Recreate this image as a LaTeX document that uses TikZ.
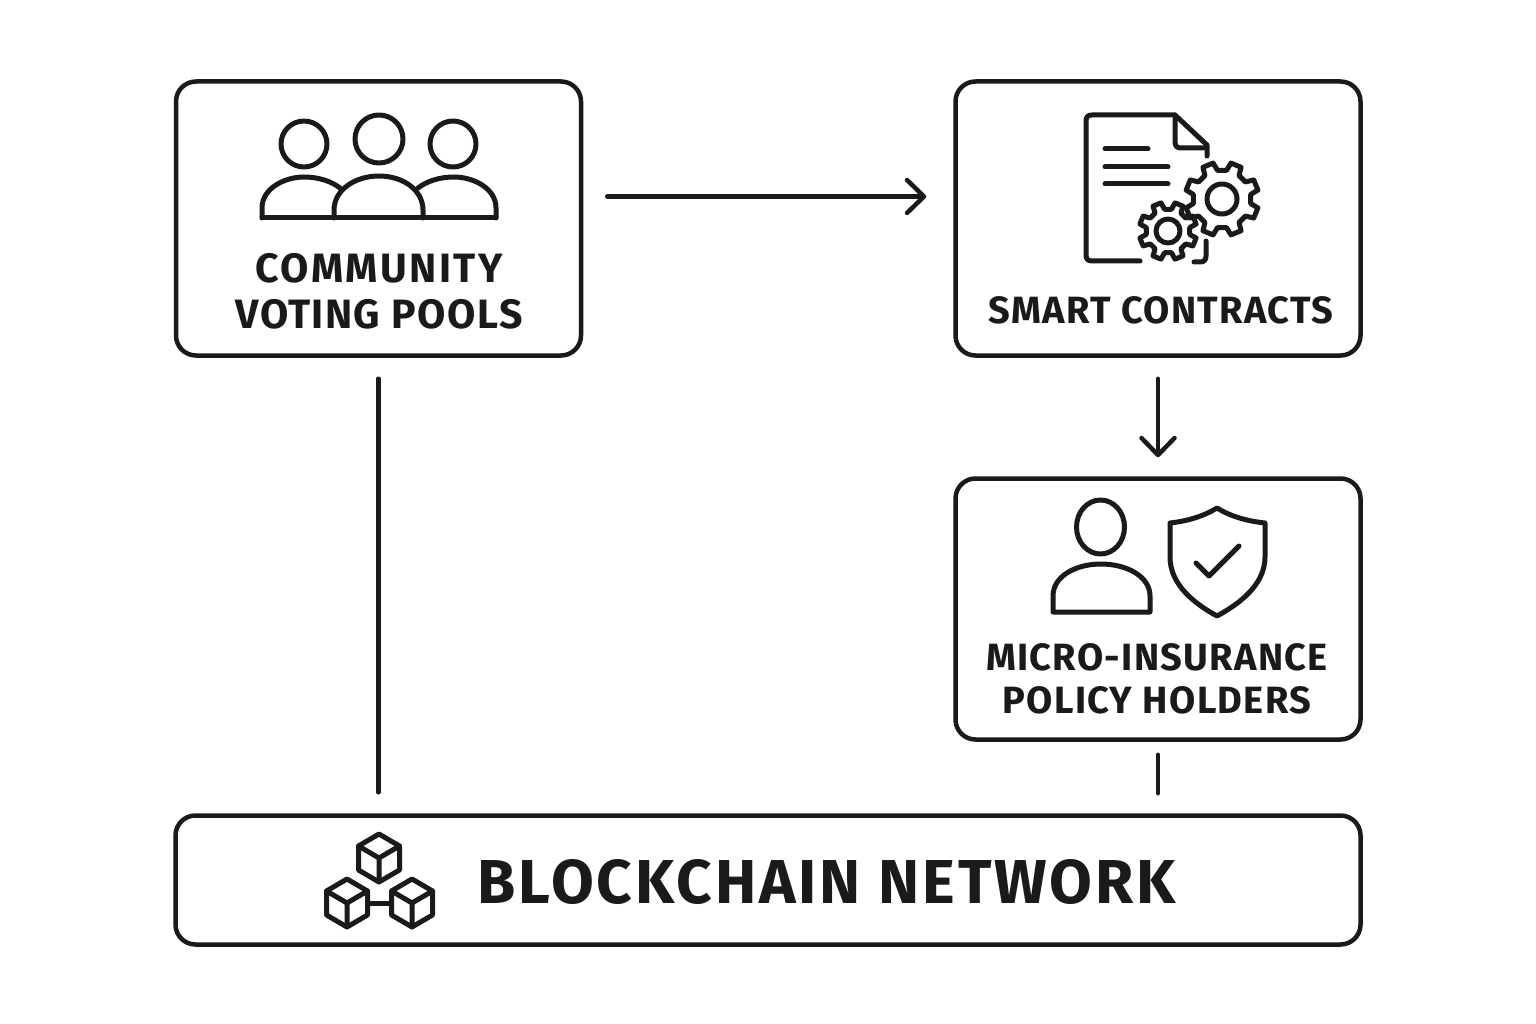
\documentclass[tikz,border=0pt]{standalone}
\usepackage{fontspec}
\setmainfont[LetterSpace=3.5]{Fira Sans}
\newfontfamily\bigfont[LetterSpace=4.7]{Fira Sans}
\usetikzlibrary{arrows.meta}
\definecolor{inkline}{HTML}{1A1A1A}
\tikzset{
panel/.style={
  draw=inkline,
  line width=4.5pt,
  rectangle,
  rounded corners=20pt,
  inner sep=0pt
  },
caption/.style={
  text=inkline,
  align=center,
  inner sep=0pt,
  font=\bfseries\fontsize{38}{43}\selectfont
  },
bigcaption/.style={
  caption,
  font=\bigfont\bfseries\fontsize{62}{70}\selectfont
  },
link/.style={
  draw=inkline,
  line width=4.5pt,
  line cap=round
  },
arrowlink/.style={
  link,
  -{Straight Barb[length=17pt,width=33pt,line width=4.5pt,round]}
  },
icon/.style={
  draw=inkline,
  line width=5pt,
  line cap=round,
  line join=round
  }
}
% cog wheel: centre, root radius, outer radius, hole radius
\newcommand{\cogwheel}[5]{
\draw[icon,shift={(#1,#2)}] (-14:#4)
  \foreach \ang in {0,45,...,315} {
    -- ({\ang-14}:#4) -- ({\ang-9}:#3) -- ({\ang+9}:#3) -- ({\ang+14}:#4)
  } -- cycle;
\draw[icon] (#1,#2) circle[radius=#5];
}
% small cube: centre
\newcommand{\netcube}[2]{
\draw[icon,shift={(#1,#2)}] (0,-24) -- (20.5,-12) -- (20.5,12) -- (0,24)
  -- (-20.5,12) -- (-20.5,-12) -- cycle;
\draw[icon,shift={(#1,#2)}] (-20.5,-12) -- (0,0) -- (20.5,-12) (0,0) -- (0,24);
}

\begin{document}
\begin{tikzpicture}[x=1pt,y=-1pt,>=latex]
\useasboundingbox (0,0) rectangle (1536,1024);

\node[panel,minimum width=405pt,minimum height=274pt] (pools) at (378.5,218.5) {};
\node[panel,minimum width=405pt,minimum height=274pt] (contracts) at (1158,218.5) {};
\node[panel,minimum width=405pt,minimum height=261pt] (holders) at (1158,609) {};
\node[panel,minimum width=1185pt,minimum height=129pt] (chain) at (768,880) {};

\node[caption,font=\bfseries\fontsize{41}{46}\selectfont] (pools-text) at (379,291)
  {{\addfontfeature{LetterSpace=6}COMMUNITY}\\VOTING POOLS};
\node[caption] (contracts-text) at (1161,310) {SMART CONTRACTS};
\node[caption] (holders-text) at (1157,678.5) {MICRO-INSURANCE\\POLICY HOLDERS};
\node[bigcaption] (chain-text) at (827,882) {BLOCKCHAIN NETWORK};

\draw[arrowlink,shorten <=24pt,shorten >=27pt] ([yshift=22pt]pools.east) -- ([yshift=22pt]contracts.west);
\draw[arrowlink,shorten <=21pt,shorten >=19pt] (contracts.south) -- (holders.north);
\draw[link,shorten <=21pt,shorten >=21pt] (pools.south) -- (pools.south |- chain.north);
\draw[link,shorten <=13pt,shorten >=20pt] (holders.south) -- (holders.south |- chain.north);

% people
\draw[icon] (304,144) circle[radius=23];
\draw[icon] (379,139) circle[radius=24];
\draw[icon] (453,144) circle[radius=23];
\draw[icon] (262,218) -- (262,208) .. controls (262,188) and (285,177) .. (304,177)
  .. controls (318,177) and (331,181) .. (340,188);
\draw[icon] (496,218) -- (496,208) .. controls (496,188) and (473,177) .. (454,177)
  .. controls (440,177) and (427,181) .. (418,188);
\draw[icon] (334,218) -- (334,210) .. controls (334,190) and (355,176) .. (379,176)
  .. controls (403,176) and (423,190) .. (423,210) -- (423,218);
\draw[icon] (262,218) -- (496,218);

% document
\draw[icon] (1140,261) -- (1092,261) .. controls (1088,261) and (1086,259) .. (1086,255)
  -- (1086,121) .. controls (1086,117) and (1088,115) .. (1092,115)
  -- (1175,115) -- (1207,145) -- (1207,156);
\draw[icon] (1175,115) -- (1175,142) .. controls (1175,146) and (1177,148) .. (1181,148) -- (1206,148);
\draw[icon] (1206,241) -- (1206,256) .. controls (1206,260) and (1204,262) .. (1200,262) -- (1194,262);
\draw[icon] (1105,149) -- (1148,149);
\draw[icon] (1105,167) -- (1168,167);
\draw[icon] (1105,184) -- (1168,184);
\cogwheel{1222}{199}{29}{37}{15}
\cogwheel{1168}{231}{22}{29}{12}

% person and shield
\draw[icon] (1100.5,527) ellipse[x radius=24,y radius=27];
\draw[icon] (1053,612) -- (1053,596) .. controls (1053,576) and (1076,564) .. (1101,564)
  .. controls (1126,564) and (1150,576) .. (1150,596) -- (1150,612) -- cycle;
\draw[icon] (1217,508) .. controls (1204,516) and (1188,521) .. (1170,523) -- (1170,557)
  .. controls (1170,585) and (1195,604) .. (1217,616)
  .. controls (1239,604) and (1265,585) .. (1265,557) -- (1265,523)
  .. controls (1246,521) and (1230,516) .. (1217,508) -- cycle;
\draw[icon] (1196,563) -- (1209,576) -- (1239,546);

% blocks
\netcube{379}{858}
\netcube{347}{903}
\netcube{412}{903}
\draw[icon] (368,903) -- (391,903);

\end{tikzpicture}
\end{document}
